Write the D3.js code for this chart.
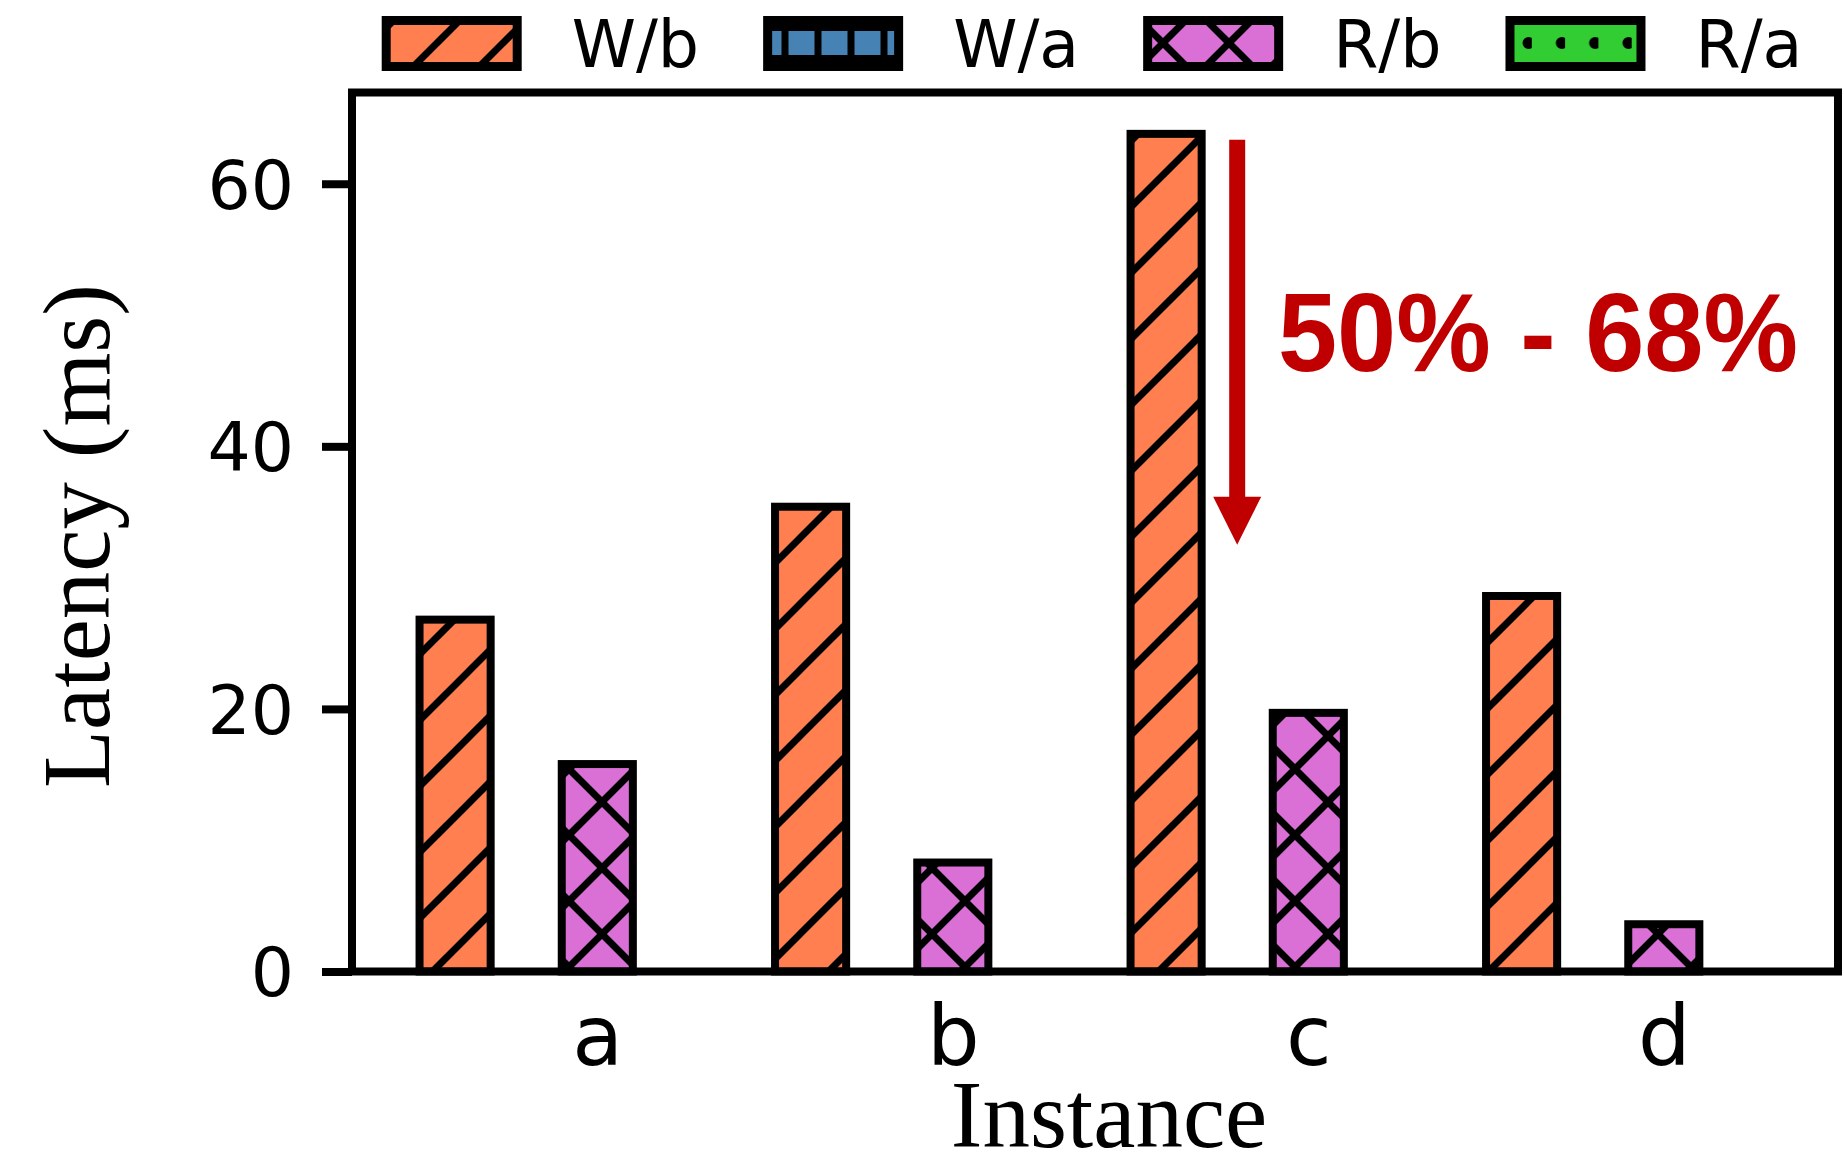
<!DOCTYPE html>
<html>
<head>
<meta charset="utf-8">
<script src="https://cdn.jsdelivr.net/npm/d3@7/dist/d3.min.js"></script>
<style>
  html, body { margin: 0; padding: 0; background: #ffffff; }
  svg { display: block; }
</style>
</head>
<body>
<svg id="chart" width="1844" height="1159"></svg>
<script>
// ---------------- data ----------------
const categories = ['a', 'b', 'c', 'd'];
const seriesNames = ['W/b', 'W/a', 'R/b', 'R/a'];
const wbValues = [26.8, 35.4, 63.8, 28.6];   // W/b (visible)
const waValues = [8.7, 15.4, 19.6, 12.5];    // W/a (hidden in the reference)
const rbValues = [15.8, 8.3, 19.7, 3.6];     // R/b (visible)
const raValues = [8.9, 3.2, 7.5, 1.4];       // R/a (hidden in the reference)
const yTickValues = [0, 20, 40, 60];
const annotationText = '50% - 68%';
const arrowEndValue = 32.5;

// ---------------- setup ----------------
const W = 1844, H = 1159;
const svg = d3.select('#chart');
svg.append('rect').attr('width', W).attr('height', H).attr('fill', '#ffffff');

const plot = { left: 352, right: 1838, top: 92.5, bottom: 971.5 };
const barW = 0.2;
const x = d3.scaleLinear().domain([-0.69, 3.49]).range([plot.left, plot.right]);
const y = d3.scaleLinear().domain([0, 66.95]).range([plot.bottom, plot.top]);

const series = [
  { name: seriesNames[0], values: wbValues, fill: 'url(#hatchSlash)', visible: true },
  { name: seriesNames[1], values: waValues, fill: 'url(#hatchVert)', visible: false },
  { name: seriesNames[2], values: rbValues, fill: 'url(#hatchCross)', visible: true },
  { name: seriesNames[3], values: raValues, fill: 'url(#hatchDots)', visible: false }
];

// ---------------- hatch patterns ----------------
const defs = svg.append('defs');
const P = 66, HW = 7;
function addLines(g, segs, w) {
  segs.forEach(s => g.append('line')
    .attr('x1', s[0]).attr('y1', s[1]).attr('x2', s[2]).attr('y2', s[3])
    .attr('stroke', '#000').attr('stroke-width', w));
}
const slashSegs = [[-6, P + 6, P + 6, -6], [-6, 6, 6, -6], [P - 6, P + 6, P + 6, P - 6]];
const backSegs = [[-6, -6, P + 6, P + 6], [P - 6, -6, P + 6, 6], [-6, P - 6, 6, P + 6]];

const pSlash = defs.append('pattern').attr('id', 'hatchSlash')
  .attr('patternUnits', 'userSpaceOnUse').attr('x', 8).attr('y', 10)
  .attr('width', P).attr('height', P);
pSlash.append('rect').attr('width', P).attr('height', P).attr('fill', '#FF7F50');
addLines(pSlash, slashSegs, HW);

const pCross = defs.append('pattern').attr('id', 'hatchCross')
  .attr('patternUnits', 'userSpaceOnUse').attr('x', 8).attr('y', 10)
  .attr('width', P).attr('height', P);
pCross.append('rect').attr('width', P).attr('height', P).attr('fill', '#DA70D6');
addLines(pCross, slashSegs, HW);
addLines(pCross, backSegs, HW);

const pVert = defs.append('pattern').attr('id', 'hatchVert')
  .attr('patternUnits', 'userSpaceOnUse').attr('x', 0).attr('y', 0)
  .attr('width', 33).attr('height', P);
pVert.append('rect').attr('width', 33).attr('height', P).attr('fill', '#4682B4');
pVert.append('rect').attr('x', 22.5).attr('y', 0).attr('width', 7).attr('height', P).attr('fill', '#000');
pVert.append('rect').attr('x', 0).attr('y', 0).attr('width', 33).attr('height', 31).attr('fill', '#000');
pVert.append('rect').attr('x', 0).attr('y', 55).attr('width', 33).attr('height', 11).attr('fill', '#000');

const pDots = defs.append('pattern').attr('id', 'hatchDots')
  .attr('patternUnits', 'userSpaceOnUse').attr('x', 0).attr('y', 0)
  .attr('width', 33.3).attr('height', 33);
pDots.append('rect').attr('width', 33.3).attr('height', 33).attr('fill', '#32CD32');
pDots.append('circle').attr('cx', 30).attr('cy', 10).attr('r', 6).attr('fill', '#000');

// ---------------- bars ----------------
const barsG = svg.append('g');
series.forEach((s, si) => {
  const off = (si - 2) * barW;
  barsG.selectAll(null)
    .data(s.values.map((v, i) => ({ v, i })))
    .enter().append('rect')
    .attr('x', d => x(d.i + off - barW / 2))
    .attr('width', d => x(d.i + off + barW / 2) - x(d.i + off - barW / 2))
    .attr('y', d => y(d.v))
    .attr('height', d => y(0) - y(d.v))
    .attr('fill', s.fill)
    .attr('stroke', '#000')
    .attr('stroke-width', 8)
    .attr('opacity', s.visible ? 1 : 0);
});

// ---------------- axes ----------------
const yAxis = d3.axisLeft(y).tickValues(yTickValues).tickSize(30).tickPadding(28).tickFormat(d3.format('d'));
const yG = svg.append('g').attr('transform', `translate(${plot.left},0)`).call(yAxis);
yG.select('.domain').remove();
yG.selectAll('.tick line').attr('stroke', '#000').attr('stroke-width', 8);
yG.selectAll('.tick text')
  .attr('font-family', 'DejaVu Sans').attr('font-size', 68).attr('fill', '#000')
  .attr('dy', '0.36em');

const xAxis = d3.axisBottom(x).tickValues(d3.range(categories.length)).tickSize(0)
  .tickFormat(i => categories[i]);
const xG = svg.append('g').attr('transform', `translate(0,${plot.bottom})`).call(xAxis);
xG.select('.domain').remove();
xG.selectAll('.tick text')
  .attr('font-family', 'DejaVu Sans').attr('font-size', 83).attr('fill', '#000')
  .attr('y', 93.5).attr('dy', 0);

// frame
svg.append('rect')
  .attr('x', plot.left).attr('y', plot.top)
  .attr('width', plot.right - plot.left).attr('height', plot.bottom - plot.top)
  .attr('fill', 'none').attr('stroke', '#000').attr('stroke-width', 8);

// axis titles
svg.append('text')
  .attr('x', 1109).attr('y', 1147)
  .attr('text-anchor', 'middle')
  .attr('font-family', 'Liberation Serif').attr('font-size', 95).attr('fill', '#000')
  .text('Instance');
svg.append('text')
  .attr('transform', 'translate(109,536) rotate(-90)')
  .attr('text-anchor', 'middle')
  .attr('font-family', 'Liberation Serif').attr('font-size', 95).attr('fill', '#000')
  .text('Latency (ms)');

// ---------------- annotation ----------------
const red = '#C00000';
const ax = x(1.8);
const aTop = y(wbValues[2]) + 6;
const aTip = y(arrowEndValue);
const headLen = 48, headHalf = 24;
svg.append('line')
  .attr('x1', ax).attr('x2', ax).attr('y1', aTop).attr('y2', aTip - headLen + 4)
  .attr('stroke', red).attr('stroke-width', 16);
svg.append('path')
  .attr('d', `M${ax - headHalf},${aTip - headLen} L${ax + headHalf},${aTip - headLen} L${ax},${aTip} Z`)
  .attr('fill', red);
svg.append('text')
  .attr('x', 1278).attr('y', 370.7)
  .attr('font-family', 'Liberation Sans').attr('font-weight', 'bold')
  .attr('font-size', 112).attr('fill', red)
  .attr('textLength', 520).attr('lengthAdjust', 'spacingAndGlyphs')
  .text(annotationText);

// ---------------- legend ----------------
const legendG = svg.append('g');
let outerLeft = 381.7;
series.forEach(s => {
  legendG.append('rect')
    .attr('x', outerLeft + 4.5).attr('y', 20.5)
    .attr('width', 131).attr('height', 46)
    .attr('fill', s.fill).attr('stroke', '#000').attr('stroke-width', 9);
  const t = legendG.append('text')
    .attr('x', outerLeft + 190).attr('y', 66.7)
    .attr('font-family', 'DejaVu Sans').attr('font-size', 65).attr('fill', '#000')
    .text(s.name);
  const tw = t.node().getComputedTextLength();
  outerLeft += tw + 254;
});
</script>
</body>
</html>
